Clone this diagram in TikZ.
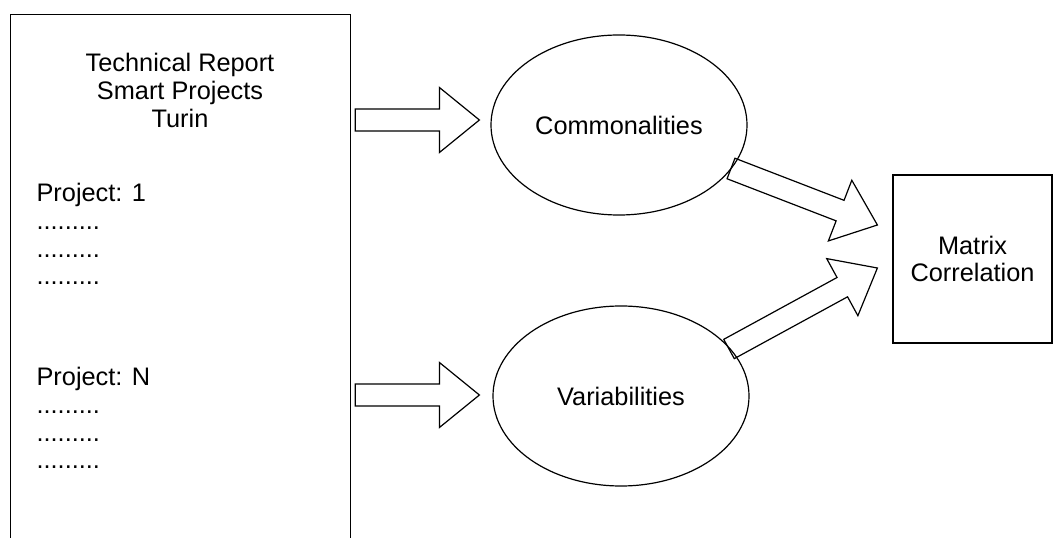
\documentclass[tikz,border=0pt]{standalone}
\usepackage{fontspec}
\setmainfont{Liberation Sans}
\usetikzlibrary{shapes.geometric,calc}

\newcommand{\fatarrow}[3]{%
    \coordinate (#3) at ($(#2)!30pt!(#1)$);
    \draw[fat arrow] ($(#1)!8.25pt!90:(#2)$) -- ($(#3)!8.25pt!90:(#2)$)
        -- ($(#3)!24.4pt!90:(#2)$) -- (#2)
        -- ($(#3)!24.4pt!-90:(#2)$) -- ($(#3)!8.25pt!-90:(#2)$)
        -- ($(#1)!8.25pt!-90:(#2)$) -- cycle;
}

\begin{document}
\begin{tikzpicture}[
        x = 0.75pt, y = -0.75pt,
        line width = 0.9pt,
        every node/.style = {font = \fontsize{19}{20.7}\selectfont, inner sep = 0pt},
        block/.style = {draw, rectangle},
        idea/.style = {draw, ellipse, minimum width = 192pt, minimum height = 135pt},
        fat arrow/.style = {draw, line join = miter}
    ]

    \useasboundingbox (0,0) rectangle (1054,538);

    % report
    \node[block, anchor = north west, minimum width = 255pt, minimum height = 420pt] (report) at (10,14) {};
    \node[align = center, anchor = north] (title) at (180,53) {Technical Report\\Smart Projects\\Turin};
    \node[align = left, anchor = north west] (first) at (36,183) {Project: 1\\.........\\.........\\.........};
    \node[align = left, anchor = north west] (last) at (36,367) {Project: N\\.........\\.........\\.........};

    % ideas
    \node[idea] (comm) at (619,125) {Commonalities};
    \node[idea] (var) at (621,396) {Variabilities};

    % result
    \node[block, align = center, minimum width = 119.25pt, minimum height = 126pt] (matrix) at (972.5,259) {Matrix\\Correlation};

    % arrows
    \coordinate (r1) at ([shift = {(4,-5)}] report.east |- comm.west);
    \coordinate (c1) at ([shift = {(-11,-5)}] comm.west);
    \coordinate (r2) at ([shift = {(4,-1)}] report.east |- var.west);
    \coordinate (v1) at ([shift = {(-13,-1)}] var.west);
    \coordinate (c2) at ([shift = {(112,43.5)}] comm.center);
    \coordinate (m1) at ([shift = {(-15,-34)}] matrix.west);
    \coordinate (v2) at ([shift = {(108,-47)}] var.center);
    \coordinate (m2) at ([shift = {(-15,9)}] matrix.west);

    \fatarrow{r1}{c1}{h1}
    \fatarrow{r2}{v1}{h2}
    \fatarrow{c2}{m1}{h3}
    \fatarrow{v2}{m2}{h4}

\end{tikzpicture}
\end{document}
